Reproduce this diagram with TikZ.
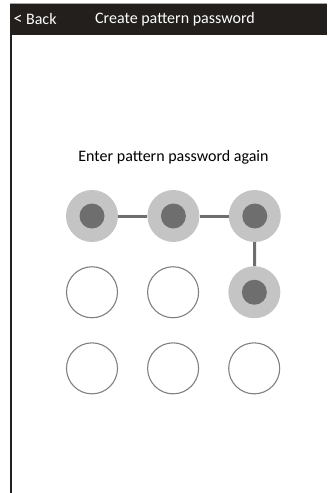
\documentclass[tikz,border=0pt]{standalone}
\usepackage{fontspec}
\setmainfont{Carlito}
\usepackage{xcolor}
\usepackage{tikz}
\usetikzlibrary{positioning}

\definecolor{barbg}{HTML}{231F1C}
\definecolor{ringgray}{HTML}{C4C4C4}
\definecolor{coregray}{HTML}{6E6E6E}
\definecolor{rimgray}{HTML}{808080}

\begin{document}
\begin{tikzpicture}[
    x=1pt, y=-1pt,
    node distance=24pt and 29pt,
    dot/.style={circle, draw=rimgray, line width=1.1pt, fill=white, minimum size=51pt, inner sep=0pt},
    hit/.style={circle, fill=ringgray, minimum size=52pt, inner sep=0pt},
    core/.style={circle, fill=coregray, minimum size=25pt, inner sep=0pt},
    link/.style={draw=coregray, line width=3pt}
]
\useasboundingbox (0,0) rectangle (328,493);

% Title bar
\fill[barbg] (10,3) rectangle (327,35);
\draw[gray!70, line width=0.8pt] (10,3.4) -- (327,3.4);
\draw[barbg, line width=2pt] (11,35) -- (11,493);
\node[text=white, font=\fontsize{16}{18}\selectfont, anchor=west] (back) at (10,19.5) {{\fontsize{18}{18}\selectfont<}\ Back};
\node[text=white, font=\fontsize{16}{18}\selectfont] (title) at (175,19.5) {Create pattern password};

% Prompt
\node[font=\fontsize{16}{18}\selectfont] (prompt) at (173.5,157) {Enter pattern password again};

% Pattern grid
\node[hit] (d1) at (92,216) {};
\node[hit, right=of d1] (d2) {};
\node[hit, right=of d2] (d3) {};
\node[dot, below=of d1] (d4) {};
\node[dot, right=of d4] (d5) {};
\node[hit, right=of d5] (d6) {};
\node[dot, below=of d4] (d7) {};
\node[dot, right=of d7] (d8) {};
\node[dot, right=of d8] (d9) {};

% Entered path
\draw[link] (d1) -- (d2);
\draw[link] (d2) -- (d3);
\draw[link] (d3) -- (d6);

% Centre marks
\node[core] (c1) at (d1) {};
\node[core] (c2) at (d2) {};
\node[core] (c3) at (d3) {};
\node[core] (c6) at (d6) {};

\end{tikzpicture}
\end{document}
